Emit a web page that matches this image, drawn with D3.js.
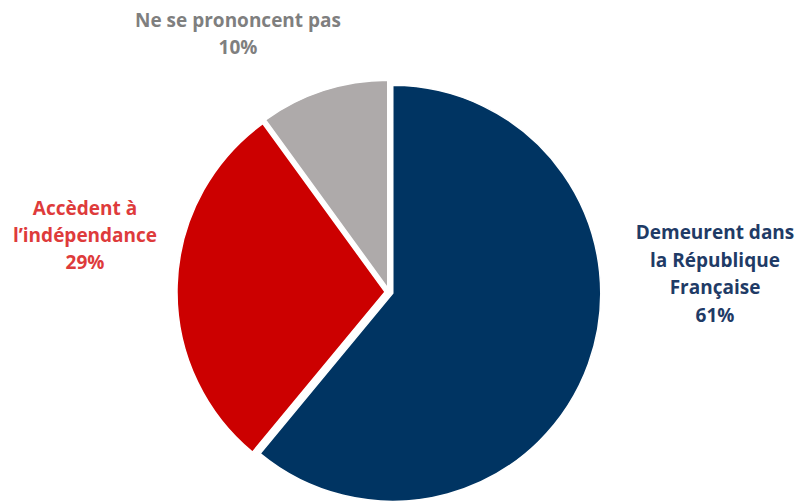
<!DOCTYPE html>
<html><head><meta charset="utf-8">
<script src="https://cdn.jsdelivr.net/npm/d3@7"></script>
<style>body{margin:0;background:#fff}svg{display:block}text{font-family:"Open Sans",Lato,sans-serif;font-weight:bold}</style>
</head><body><svg width="796" height="502"></svg>
<script>
const categories = ["Demeurent dans la République Française", "Accèdent à l’indépendance", "Ne se prononcent pas"];
const values = [61, 29, 10];
const labelLines = [["Demeurent dans", "la République", "Française", "61%"], ["Accèdent à", "l’indépendance", "29%"], ["Ne se prononcent pas", "10%"]];
const sliceColors = ["#003462", "#cc0000", "#aeaaaa"];
const textColors = ["#1f3b66", "#de3b3b", "#7f7f7f"];

const svg = d3.select("svg");
const cx = 389, cy = 292, r = 208, explode = 4;
const pie = d3.pie().sort(null).value(d => d)(values);
const arc = d3.arc().innerRadius(0).outerRadius(r);
const g = svg.append("g").attr("transform", `translate(${cx},${cy})`);
g.selectAll("path").data(pie).join("path")
  .attr("d", arc)
  .attr("fill", (d, i) => sliceColors[i])
  .attr("stroke", "#fff").attr("stroke-width", 1.5)
  .attr("transform", d => {
    const a = (d.startAngle + d.endAngle) / 2;
    return `translate(${explode * Math.sin(a)},${-explode * Math.cos(a)})`;
  });

const labelPos = [[715, 239], [85, 215], [238, 27]];
const lhs = [27.7, 27, 27];
labelLines.forEach((lines, i) => {
  const t = svg.append("text").attr("text-anchor", "middle").attr("fill", textColors[i])
    .attr("font-size", 19);
  lines.forEach((l, j) => t.append("tspan").attr("x", labelPos[i][0]).attr("y", labelPos[i][1] + j * lhs[i]).text(l));
});
</script></body></html>
